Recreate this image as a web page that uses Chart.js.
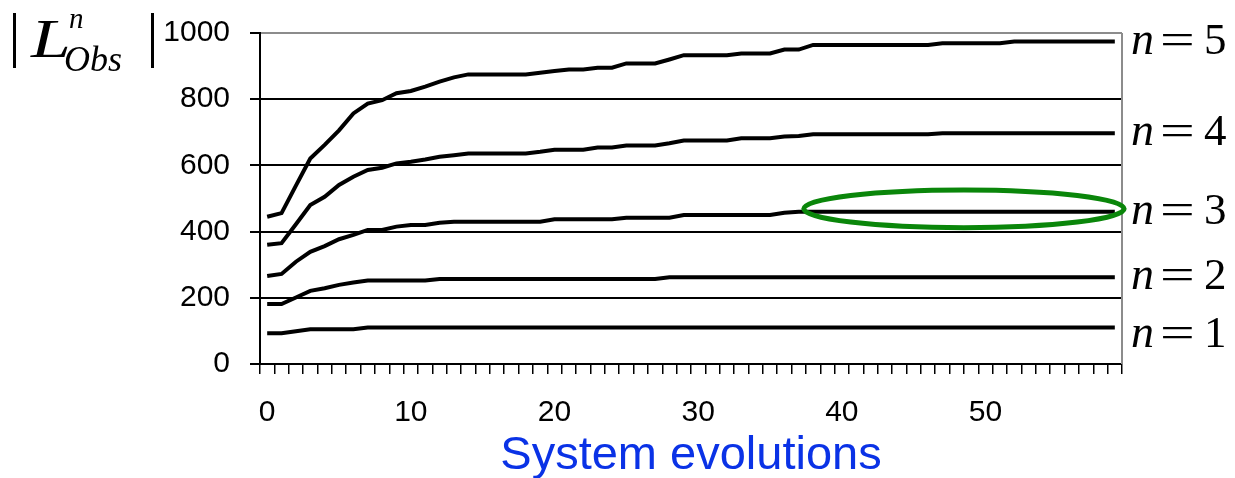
<!DOCTYPE html>
<html>
<head>
<meta charset="utf-8">
<script src="https://cdn.jsdelivr.net/npm/chart.js@4/dist/chart.umd.min.js"></script>
<style>
  body { margin: 0; background: #fff; }
  #wrap { width: 1235px; height: 478px; }
</style>
</head>
<body>
<div id="wrap"><canvas id="myChart"></canvas></div>
<script>
var evolutions = [0, 1, 2, 3, 4, 5, 6, 7, 8, 9, 10, 11, 12, 13, 14, 15, 16, 17, 18, 19,
  20, 21, 22, 23, 24, 25, 26, 27, 28, 29, 30, 31, 32, 33, 34, 35, 36, 37, 38, 39,
  40, 41, 42, 43, 44, 45, 46, 47, 48, 49, 50, 51, 52, 53, 54, 55, 56, 57, 58, 59];

var n1 = [93, 93, 99, 105, 105, 105, 105, 110, 110, 110, 110, 110, 110, 110, 110, 110, 110, 110, 110, 110,
  110, 110, 110, 110, 110, 110, 110, 110, 110, 110, 110, 110, 110, 110, 110, 110, 110, 110, 110, 110,
  110, 110, 110, 110, 110, 110, 110, 110, 110, 110, 110, 110, 110, 110, 110, 110, 110, 110, 110, 110];
var n2 = [181, 181, 201, 221, 229, 239, 246, 252, 252, 252, 252, 252, 257, 257, 257, 257, 257, 257, 257, 257,
  257, 257, 257, 257, 257, 257, 257, 257, 262, 262, 262, 262, 262, 262, 262, 262, 262, 262, 262, 262,
  262, 262, 262, 262, 262, 262, 262, 262, 262, 262, 262, 262, 262, 262, 262, 262, 262, 262, 262, 262];
var n3 = [266, 272, 309, 339, 356, 377, 390, 405, 405, 415, 420, 420, 427, 430, 430, 430, 430, 430, 430, 430,
  437, 437, 437, 437, 437, 442, 442, 442, 442, 450, 450, 450, 450, 450, 450, 450, 457, 460, 460, 460,
  460, 460, 460, 460, 460, 460, 460, 460, 460, 460, 460, 460, 460, 460, 460, 460, 460, 460, 460, 460];
var n4 = [360, 365, 422, 480, 505, 541, 566, 586, 593, 606, 611, 618, 626, 631, 636, 636, 636, 636, 636, 641,
  647, 647, 647, 654, 654, 660, 660, 660, 667, 675, 675, 675, 675, 682, 682, 682, 687, 689, 694, 694,
  694, 694, 694, 694, 694, 694, 694, 697, 697, 697, 697, 697, 697, 697, 697, 697, 697, 697, 697, 697];
var n5 = [445, 456, 539, 621, 662, 706, 757, 787, 797, 818, 825, 838, 853, 866, 875, 875, 875, 875, 875, 880,
  885, 890, 890, 895, 895, 908, 908, 908, 920, 933, 933, 933, 933, 938, 938, 938, 950, 950, 964, 964,
  964, 964, 964, 964, 964, 964, 964, 969, 969, 969, 969, 969, 974, 974, 974, 974, 974, 974, 974, 974];

var seriesNames = ["1", "2", "3", "4", "5"];
var yTicks = [0, 200, 400, 600, 800, 1000];

var sans = "'Liberation Sans', Arial, sans-serif";
var serif = "'Liberation Serif', 'Times New Roman', serif";

// axis label at top left, n = k labels at right, green ellipse, gray frame
var extras = {
  id: "extras",
  afterDatasetsDraw: function (chart) {
    var ctx = chart.ctx;
    var area = chart.chartArea;
    var x = chart.scales.x, y = chart.scales.y;
    ctx.save();

    // gray plot border on the right
    ctx.strokeStyle = "#8c8c8c";
    ctx.lineWidth = 2;
    ctx.beginPath();
    ctx.moveTo(area.right, area.top);
    ctx.lineTo(area.right, area.bottom);
    ctx.stroke();

    // green ellipse around the n = 3 plateau
    var x0 = x.getPixelForValue(37.35), x1 = x.getPixelForValue(59.65);
    var yA = y.getPixelForValue(526), yB = y.getPixelForValue(412);
    ctx.strokeStyle = "#0a860a";
    ctx.lineWidth = 5;
    ctx.beginPath();
    ctx.ellipse((x0 + x1) / 2, (yA + yB) / 2, (x1 - x0) / 2, (yB - yA) / 2, 0, 0, Math.PI * 2);
    ctx.stroke();

    // |L^n_Obs|
    ctx.fillStyle = "#000";
    ctx.textAlign = "left";
    ctx.textBaseline = "alphabetic";
    ctx.fillRect(13, 13, 3, 55);
    ctx.fillRect(151, 13, 3, 55);
    ctx.save();
    ctx.translate(31, 57);
    ctx.scale(1.3, 1);
    ctx.font = "italic 55px " + serif;
    ctx.fillText("L", 0, 0);
    ctx.restore();
    ctx.font = "italic 29px " + serif;
    ctx.fillText("n", 69, 28);
    ctx.font = "italic 36px " + serif;
    ctx.fillText("Obs", 64, 71);

    // n = k labels at the line ends
    var sets = chart.data.datasets;
    for (var i = 0; i < sets.length; i++) {
      var last = sets[i].data[sets[i].data.length - 1];
      var by = y.getPixelForValue(last) + (i === 0 ? 19 : 12);
      ctx.font = "italic 46px " + serif;
      ctx.fillText("n", 1131, by);
      ctx.save();
      ctx.translate(1160, by);
      ctx.scale(1.4, 1);
      ctx.font = "44px " + serif;
      ctx.fillText("=", 0, 0);
      ctx.restore();
      ctx.font = "45px " + serif;
      ctx.fillText(seriesNames[i], 1204, by);
    }
    ctx.restore();
  }
};

function lineSet(name, values) {
  return {
    label: "n = " + name,
    data: values,
    borderColor: "#000",
    borderWidth: 4,
    pointRadius: 0,
    tension: 0,
    fill: false
  };
}

new Chart("myChart", {
  type: "line",
  data: {
    labels: evolutions,
    datasets: [
      lineSet(seriesNames[0], n1),
      lineSet(seriesNames[1], n2),
      lineSet(seriesNames[2], n3),
      lineSet(seriesNames[3], n4),
      lineSet(seriesNames[4], n5)
    ]
  },
  plugins: [extras],
  options: {
    responsive: true,
    maintainAspectRatio: false,
    animation: false,
    layout: { padding: { left: 0, right: 113, top: 33, bottom: 0 } },
    plugins: {
      legend: { display: false },
      tooltip: { enabled: false }
    },
    scales: {
      x: {
        type: "category",
        offset: true,
        border: { color: "#000", width: 2 },
        grid: {
          offset: true,
          drawOnChartArea: false,
          drawTicks: true,
          tickLength: 10,
          color: "#000",
          lineWidth: 1.5
        },
        ticks: {
          autoSkip: false,
          maxRotation: 0,
          padding: 21,
          color: "#000",
          font: { family: sans, size: 30 },
          callback: function (val, idx) {
            var v = evolutions[idx];
            return v % 10 === 0 ? String(v) : "";
          }
        },
        title: {
          display: true,
          text: "System evolutions",
          color: "#0a32e6",
          font: { family: sans, size: 47, lineHeight: 0.95 },
          padding: 0
        },
        afterFit: function (scale) {
          scale.height = 114;
          scale.paddingLeft = 0;
          scale.paddingRight = 0;
        }
      },
      y: {
        min: 0,
        max: 1000,
        border: { color: "#000", width: 2 },
        grid: {
          drawTicks: true,
          tickLength: 10,
          lineWidth: 2,
          tickColor: "#000",
          color: function (c) { return c.tick && c.tick.value === 1000 ? "#8c8c8c" : "#000"; }
        },
        afterBuildTicks: function (scale) {
          scale.ticks = yTicks.map(function (v) { return { value: v }; });
        },
        ticks: {
          padding: 20,
          color: "#000",
          font: { family: sans, size: 30 },
          callback: function (v) { return String(v); }
        },
        afterFit: function (scale) {
          scale.width = 260;
          scale.paddingTop = 0;
          scale.paddingBottom = 0;
        }
      }
    }
  }
});
</script>
</body>
</html>
